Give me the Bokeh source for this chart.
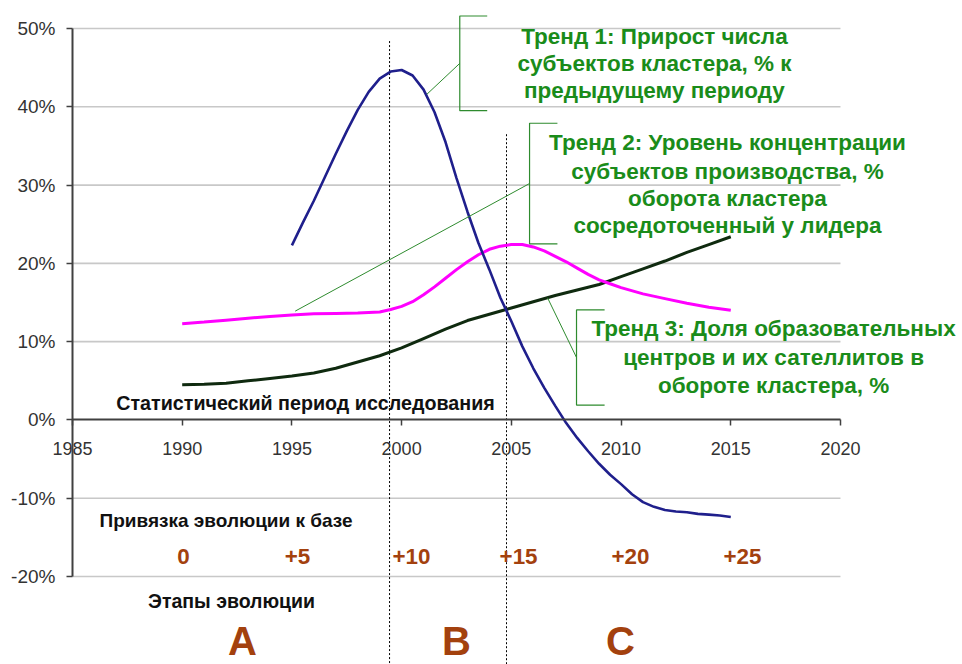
from bokeh.plotting import figure
from bokeh.models import Range1d, FixedTicker, PrintfTickFormatter, ColumnDataSource
from bokeh.core.properties import value
from bokeh.embed import file_html
from bokeh.resources import INLINE

# ---------------- data ----------------
# Trend 1: growth of cluster subjects, % to previous period (blue)
t1_years = [1995.0, 1995.5, 1996.0, 1996.5, 1997.0, 1997.5, 1998.0, 1998.5, 1999.0, 1999.5,
            2000.0, 2000.5, 2001.0, 2001.5, 2002.0, 2002.5, 2003.0, 2003.5, 2004.0, 2004.5,
            2005.0, 2005.5, 2006.0, 2006.5, 2007.0, 2007.5, 2008.0, 2008.5, 2009.0, 2009.5,
            2010.0, 2010.5, 2011.0, 2011.5, 2012.0, 2012.5, 2013.0, 2013.5, 2014.0, 2014.5, 2015.0]
t1_values = [22.3, 25.2, 28.0, 31.0, 34.0, 36.9, 39.6, 41.9, 43.6, 44.5,
             44.7, 44.0, 42.2, 39.3, 35.5, 30.9, 26.6, 22.6, 19.2, 15.6,
             12.6, 9.4, 6.6, 4.1, 1.8, -0.4, -2.3, -4.0, -5.6, -7.0,
             -8.2, -9.5, -10.5, -11.1, -11.5, -11.7, -11.8, -12.0, -12.1, -12.2, -12.4]

# Trend 2: concentration level at the leader, % of cluster turnover (magenta)
t2_years = [1990, 1991, 1992, 1993, 1994, 1995, 1996, 1997, 1998, 1999, 1999.5,
            2000, 2000.5, 2001, 2001.5, 2002, 2002.5, 2003, 2003.5, 2004, 2004.5,
            2005, 2005.5, 2006, 2006.5, 2007, 2007.5, 2008, 2008.5, 2009, 2009.5,
            2010, 2011, 2012, 2013, 2014, 2015]
t2_values = [12.3, 12.5, 12.75, 13.0, 13.2, 13.4, 13.55, 13.6, 13.65, 13.8, 14.1,
             14.5, 15.1, 16.0, 17.0, 18.1, 19.2, 20.2, 21.1, 21.8, 22.2,
             22.4, 22.4, 22.1, 21.6, 20.9, 20.2, 19.4, 18.6, 17.9, 17.4,
             16.9, 16.1, 15.5, 14.9, 14.4, 14.0]

# Trend 3: share of educational centres and satellites, % (dark)
t3_years = [1990, 1991, 1992, 1993, 1994, 1995, 1996, 1997, 1998, 1999, 2000, 2001, 2002,
            2003, 2004, 2005, 2006, 2007, 2008, 2009, 2010, 2011, 2012, 2013, 2014, 2015]
t3_values = [4.5, 4.55, 4.7, 5.0, 5.3, 5.6, 6.0, 6.6, 7.4, 8.2, 9.2, 10.4, 11.6,
             12.7, 13.5, 14.3, 15.1, 15.9, 16.6, 17.3, 18.3, 19.3, 20.3, 21.4, 22.4, 23.4]

x_ticks = [1985, 1990, 1995, 2000, 2005, 2010, 2015, 2020]
y_ticks = [-20, -10, 0, 10, 20, 30, 40, 50]

phase_bounds = [1999.45, 2004.78]
phase_tops = [48.4, 36.5]

stage_labels = ["0", "+5", "+10", "+15", "+20", "+25"]
phase_labels = ["A", "B", "C"]

t1_text = ["Тренд 1: Прирост числа", "субъектов кластера, % к", "предыдущему периоду"]
t2_text = ["Тренд 2: Уровень концентрации", "субъектов производства, %",
           "оборота кластера", "сосредоточенный у лидера"]
t3_text = ["Тренд 3: Доля образовательных", "центров и их сателлитов в",
           "обороте кластера, %"]

# ---------------- styles ----------------
FONT = value("Liberation Sans")
BLUE = "#1f1f8c"
MAGENTA = "#ff00ff"
DARK = "#0f2a0f"
GREEN = "#1a8c1a"
BROWN = "#a3410e"
GRID = "#c8c8c8"

X0, X1 = 1985, 2020
Y0, Y1 = -20, 50
XS, XE = 1981.72, 2025.56
YS, YE = -31.24, 53.58

p = figure(width=962, height=664, output_backend="svg", toolbar_location=None,
           x_range=Range1d(XS, XE), y_range=Range1d(YS, YE),
           min_border_left=0, min_border_right=0, min_border_top=0, min_border_bottom=0)
p.outline_line_color = None
p.xgrid.visible = False
p.ygrid.visible = False
p.background_fill_color = "white"

# horizontal grid lines restricted to the axis extent
grid_y = [t for t in y_ticks if t != 0]
p.segment(x0=[X0] * len(grid_y), x1=[X1] * len(grid_y), y0=grid_y, y1=grid_y,
          line_color=GRID, line_width=1.6)

# axes (crossing at 1985 / 0%)
xa = p.xaxis[0]
xa.fixed_location = 0
xa.bounds = (X0, X1)
xa.ticker = FixedTicker(ticks=x_ticks)
xa.minor_tick_line_color = None
xa.major_tick_in = 0
xa.major_tick_out = 6
xa.axis_line_color = "#404040"
xa.axis_line_width = 2
xa.major_tick_line_color = "#404040"
xa.major_tick_line_width = 1.5
xa.major_label_text_font = "Liberation Sans"
xa.major_label_text_font_size = "18px"
xa.major_label_text_color = "#333333"
xa.major_label_standoff = 16

ya = p.yaxis[0]
ya.fixed_location = X0
ya.bounds = (Y0, Y1)
ya.ticker = FixedTicker(ticks=y_ticks)
ya.formatter = PrintfTickFormatter(format="%d%%")
ya.minor_tick_line_color = None
ya.major_tick_in = 0
ya.major_tick_out = 6
ya.axis_line_color = "#404040"
ya.axis_line_width = 2
ya.major_tick_line_color = "#404040"
ya.major_tick_line_width = 1.5
ya.major_label_text_font = "Liberation Sans"
ya.major_label_text_font_size = "19px"
ya.major_label_text_color = "#333333"
ya.major_label_standoff = 11

# phase boundaries (dotted verticals)
p.segment(x0=phase_bounds, x1=phase_bounds, y0=phase_tops, y1=[YS] * 2,
          line_color="black", line_width=1, line_dash="2 2")

# data lines
p.line(t3_years, t3_values, line_color=DARK, line_width=3)
p.line(t2_years, t2_values, line_color=MAGENTA, line_width=3)
p.line(t1_years, t1_values, line_color=BLUE, line_width=2.6)

# callout brackets and leaders (annotation geometry, data units)
callouts = [
    # x of bracket, x of bracket tick end, top, bottom, leader target x, y
    (2002.65, 2003.9, 51.6, 39.5, 2001.15, 41.6),
    (2005.83, 2007.1, 37.9, 22.5, 1995.15, 13.9),
    (2007.97, 2009.25, 14.05, 1.9, 2006.65, 15.6),
]
for xv, xt, top, bot, tx, ty in callouts:
    p.line([xt, xv, xv, xt], [top, top, bot, bot], line_color="#2e8b2e", line_width=1.2)
    p.line([xv, tx], [(top + bot) / 2, ty], line_color="#2e8b2e", line_width=1)


def text_block(lines, xc, ys, size, color, style="bold"):
    src = ColumnDataSource(dict(x=[xc] * len(lines), y=ys, t=lines))
    p.text(x="x", y="y", text="t", source=src, text_font=FONT, text_font_style=style,
           text_font_size=size, text_color=color, text_align="center",
           text_baseline="middle")


text_block(t1_text, 2011.52, [49.04, 45.47, 42.02], "22.5px", GREEN)
text_block(t2_text, 2014.85, [35.38, 31.80, 28.35, 24.78], "22.5px", GREEN)
text_block(t3_text, 2016.95, [11.62, 7.92, 4.34], "22.5px", GREEN)

text_block(["Статистический период исследования"], 1995.62, [2.17], "19.7px", "#111111")
text_block(["Привязка эволюции к базе"], 1992.0, [-12.8], "19px", "#111111")
text_block(["Этапы эволюции"], 1992.25, [-23.1], "19.5px", "#111111")

stage_x = [1990.06, 1995.25, 2000.45, 2005.33, 2010.43, 2015.53]
src = ColumnDataSource(dict(x=stage_x, y=[-17.4] * 6, t=stage_labels))
p.text(x="x", y="y", text="t", source=src, text_font=FONT, text_font_style="bold",
       text_font_size="22.4px", text_color=BROWN, text_align="center", text_baseline="middle")

phase_x = [1992.75, 2002.5, 2009.97]
src = ColumnDataSource(dict(x=phase_x, y=[-28.3] * 3, t=phase_labels))
p.text(x="x", y="y", text="t", source=src, text_font=FONT, text_font_style="bold",
       text_font_size="40px", text_color=BROWN, text_align="center", text_baseline="middle")

open("out.html", "w").write(file_html(p, INLINE))
